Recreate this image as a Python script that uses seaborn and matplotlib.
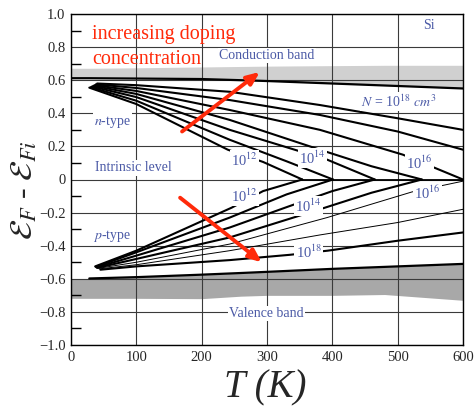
import matplotlib
matplotlib.use('Agg')
import matplotlib.pyplot as plt
import seaborn as sns
import pandas as pd

# band edges, energy relative to intrinsic level (eV) vs T (K)
band_T = [0, 28, 100, 200, 260, 300, 400, 480, 600]
cb_edge = [0.612, 0.612, 0.61, 0.607, 0.60, 0.595, 0.58, 0.568, 0.55]
cb_top = [0.672, 0.672, 0.675, 0.68, 0.683, 0.685, 0.688, 0.69, 0.69]
vb_edge = [-0.598, -0.598, -0.59, -0.575, -0.565, -0.558, -0.54, -0.528, -0.51]
vb_bottom = [-0.718, -0.718, -0.718, -0.72, -0.705, -0.70, -0.70, -0.695, -0.73]

# n-type Fermi level, N = 1e12 .. 1e18
n12_T = [28, 100, 240, 294, 354]
n12_E = [0.555, 0.456, 0.18, 0.106, 0.0]
n13_T = [30, 100, 243, 330, 401]
n13_E = [0.558, 0.476, 0.24, 0.11, 0.0]
n14_T = [32, 100, 243, 392, 465]
n14_E = [0.562, 0.498, 0.30, 0.12, 0.0]
n15_T = [34, 100, 243, 381, 460, 537]
n15_E = [0.566, 0.517, 0.36, 0.18, 0.08, 0.0]
n16_T = [36, 100, 243, 381, 508, 600]
n16_E = [0.57, 0.535, 0.42, 0.30, 0.15, 0.0]
n17_T = [38, 100, 243, 381, 500, 600]
n17_E = [0.575, 0.553, 0.48, 0.39, 0.29, 0.18]
n18_T = [40, 100, 243, 381, 500, 600]
n18_E = [0.58, 0.57, 0.53, 0.45, 0.37, 0.30]

# p-type Fermi level, N = 1e12 .. 1e18
p12_T = [37, 100, 246, 294, 354]
p12_E = [-0.525, -0.43, -0.17, -0.07, 0.0]
p13_T = [38, 100, 243, 330, 401]
p13_E = [-0.528, -0.44, -0.23, -0.09, 0.0]
p14_T = [39, 100, 243, 335, 400, 465]
p14_E = [-0.531, -0.46, -0.29, -0.16, -0.07, 0.0]
p15_T = [40, 100, 243, 381, 460, 537]
p15_E = [-0.534, -0.48, -0.35, -0.18, -0.08, 0.0]
p16_T = [41, 100, 243, 392, 522, 600]
p16_E = [-0.537, -0.50, -0.39, -0.23, -0.075, -0.01]
p17_T = [43, 100, 243, 381, 500, 600]
p17_E = [-0.54, -0.515, -0.43, -0.335, -0.26, -0.18]
p18_T = [45, 100, 243, 335, 393, 500, 600]
p18_E = [-0.545, -0.525, -0.487, -0.455, -0.43, -0.37, -0.32]

# intrinsic level after all curves merged
intr_T = [354, 600]
intr_E = [0.0, 0.0]

x_ticks = [0, 100, 200, 300, 400, 500, 600]
y_ticks = [1.0, 0.8, 0.6, 0.4, 0.2, 0.0, -0.2, -0.4, -0.6, -0.8, -1.0]
y_tick_labels = ['1.0', '0.8', '0.6', '0.4', '0.2', '0',
                 '\u22120.2', '\u22120.4', '\u22120.6', '\u22120.8', '\u22121.0']
y_minor = [0.9, 0.7, 0.5, 0.3, 0.1, -0.1, -0.3, -0.5, -0.7, -0.9]

curves = [
    ('n12', n12_T, n12_E, 1.5), ('n13', n13_T, n13_E, 1.5),
    ('n14', n14_T, n14_E, 1.5), ('n15', n15_T, n15_E, 1.5),
    ('n16', n16_T, n16_E, 1.5), ('n17', n17_T, n17_E, 1.5),
    ('n18', n18_T, n18_E, 1.5),
    ('p12', p12_T, p12_E, 1.5), ('p13', p13_T, p13_E, 1.5),
    ('p14', p14_T, p14_E, 1.5), ('p15', p15_T, p15_E, 1.5),
    ('p16', p16_T, p16_E, 0.7), ('p17', p17_T, p17_E, 0.7),
    ('p18', p18_T, p18_E, 1.5),
    ('intr', intr_T, intr_E, 1.3),
]
rows = []
for name, ts, es, lw in curves:
    for t, e in zip(ts, es):
        rows.append({'curve': name, 'T': t, 'E': e, 'lw': lw})
df = pd.DataFrame(rows)

sns.set_style('white')
plt.rcParams['font.family'] = ['Liberation Serif', 'DejaVu Serif']
plt.rcParams['mathtext.fontset'] = 'stix'

fig = plt.figure(figsize=(4.75, 4.08), dpi=100)
ax = fig.add_axes([71 / 475, 1 - 345 / 408, 392 / 475, 331 / 408])

# bands
ax.fill_between(band_T, cb_edge, cb_top, color='#d0d0d0', lw=0, zorder=0.2)
ax.fill_between(band_T, vb_bottom, vb_edge, color='#a8a8a8', lw=0, zorder=0.2)
sns.lineplot(x=band_T, y=cb_edge, color='black', lw=1.6, ax=ax, sort=False, estimator=None)
sns.lineplot(x=band_T[1:], y=vb_edge[1:], color='black', lw=1.6, ax=ax, sort=False, estimator=None)

for name, g in df.groupby('curve', sort=False):
    sns.lineplot(data=g, x='T', y='E', color='black', lw=g['lw'].iloc[0],
                 ax=ax, sort=False, estimator=None, zorder=2)

ax.set_xlim(0, 600)
ax.set_ylim(-1.0, 1.0)
ax.set_xticks(x_ticks)
ax.set_yticks(y_ticks)
ax.set_yticklabels(y_tick_labels)
ax.set_yticks(y_minor, minor=True)
ax.tick_params(axis='both', which='major', length=0, labelsize=10.5, pad=4)
ax.tick_params(axis='y', which='minor', direction='in', length=7, width=1, color='black', left=True)
ax.set_axisbelow(True)
ax.grid(True, which='major', color='#3a3a3a', lw=0.8)
for s in ax.spines.values():
    s.set_color('black')
    s.set_linewidth(1.0)
ax.set_xlabel('')
ax.set_ylabel('')

blue = '#4b5aa6'
box = dict(facecolor='white', edgecolor='none', pad=0.8)
def blab(t, e, s, size=10):
    ax.text(t, e, s, color=blue, fontsize=size, ha='center', va='center', bbox=box, zorder=4)

blab(548, 0.93, 'Si')
blab(300, 0.75, 'Conduction band')
blab(502, 0.47, r'$N$ = 10$^{18}$ $cm^3$')
blab(63, 0.35, r'$n$-type')
blab(95, 0.07, 'Intrinsic level')
blab(63, -0.34, r'$p$-type')
blab(299, -0.81, 'Valence band')
blab(266, 0.118, r'10$^{12}$', 10.5)
blab(370, 0.13, r'10$^{14}$', 10.5)
blab(534, 0.10, r'10$^{16}$', 10.5)
blab(265, -0.10, r'10$^{12}$', 10.5)
blab(364, -0.16, r'10$^{14}$', 10.5)
blab(545, -0.08, r'10$^{16}$', 10.5)
blab(364, -0.44, r'10$^{18}$', 10.5)

red = '#ff2a0a'
ax.text(32, 0.85, 'increasing doping', color=red, fontsize=14.5,
        family=['Liberation Serif'], ha='left', va='baseline', zorder=5)
ax.text(32, 0.70, 'concentration', color=red, fontsize=14.5,
        family=['Liberation Serif'], ha='left', va='baseline', zorder=5)
arrow = dict(arrowstyle='-|>,head_length=0.75,head_width=0.32', color=red, lw=2.8,
             shrinkA=0, shrinkB=0)
ax.annotate('', xy=(289, 0.65), xytext=(170, 0.29), arrowprops=arrow, zorder=5)
ax.annotate('', xy=(292, -0.50), xytext=(167, -0.11), arrowprops=arrow, zorder=5)

fig.text(265 / 475, 1 - 388 / 408, 'T (K)', fontsize=28, fontstyle='italic',
         ha='center', va='center')
fig.text(25 / 475, 1 - 190 / 408, r'$\mathcal{E}_F$ - $\mathcal{E}_{Fi}$', fontsize=23,
         rotation=90, ha='center', va='center')

fig.savefig('out.png', dpi=100)
